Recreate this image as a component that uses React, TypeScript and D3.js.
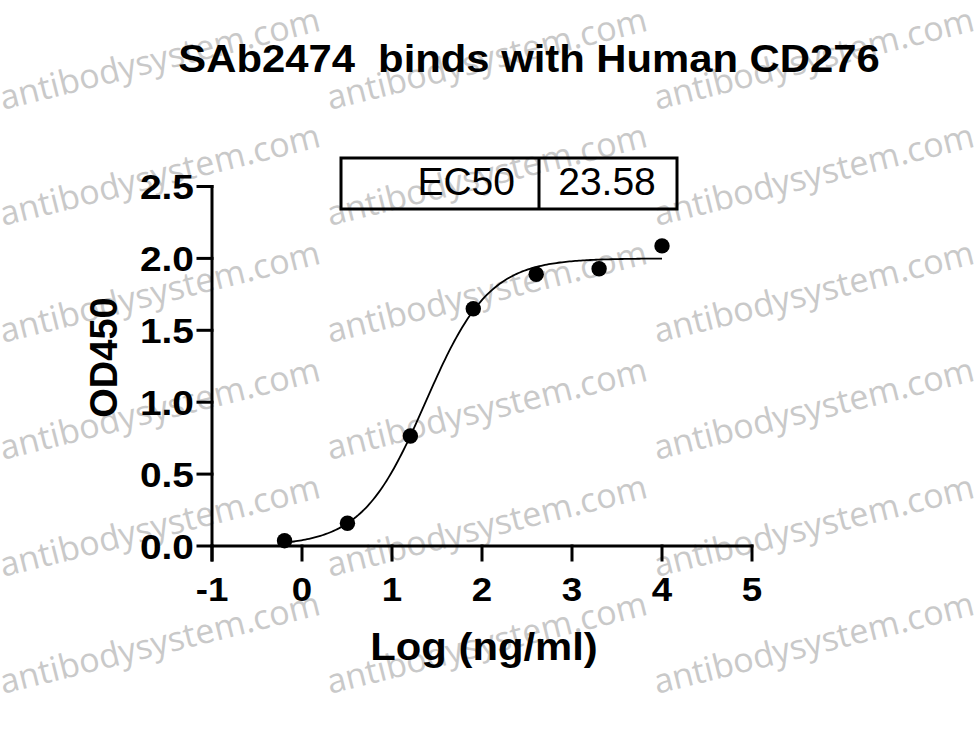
import React from "react";
import * as d3 from "d3";

// ---- data ----
const logConc = [-0.194, 0.505, 1.204, 1.903, 2.602, 3.301, 4.0];
const od450 = [0.037, 0.158, 0.765, 1.65, 1.89, 1.928, 2.087];
const xTicks = [-1, 0, 1, 2, 3, 4, 5];
const yTicks = [0, 0.5, 1.0, 1.5, 2.0, 2.5];
// four-parameter logistic fit shown in the chart
const fitBottom = 0.0;
const fitTop = 2.0;
const fitEC50 = 23.58;
const fitHill = 1.23;
const fitRange = [-0.194, 4.0];
const titleText = "SAb2474  binds with Human CD276";
const xTitle = "Log (ng/ml)";
const yTitle = "OD450";
const ec50Label = "EC50";
const ec50Value = "23.58";
const watermark = "antibodysystem.com";
const wmCols = [3, 330, 657];
const wmRows = [110, 226, 343, 460, 577, 694];

const W = 979;
const H = 729;
const FONT = "'Liberation Sans', Arial, Helvetica, sans-serif";

const x = d3.scaleLinear().domain([-1, 5]).range([212, 752]);
const y = d3.scaleLinear().domain([0, 2.5]).range([546, 186.5]);

function fit(lx: number) {
  const logEC = Math.log10(fitEC50);
  return fitBottom + (fitTop - fitBottom) / (1 + Math.pow(10, (logEC - lx) * fitHill));
}

const SX = 1.08;

export default function App() {
  const curvePts: [number, number][] = d3
    .range(0, 201)
    .map((i) => {
      const lx = fitRange[0] + ((fitRange[1] - fitRange[0]) * i) / 200;
      return [lx, fit(lx)];
    });
  const line = d3
    .line<[number, number]>()
    .x((d) => x(d[0]))
    .y((d) => y(d[1]))
    .curve(d3.curveLinear);

  const x0 = x(-1);
  const y0 = y(0);

  return (
    <svg
      width={W}
      height={H}
      viewBox={`0 0 ${W} ${H}`}
      style={{ position: "absolute", left: 0, top: 0, background: "#fff" }}
    >
      <rect x={0} y={0} width={W} height={H} fill="#fff" />
      {/* watermarks */}
      <g fill="#c9c9c9" fontFamily="'Open Sans', 'DejaVu Sans', sans-serif" fontSize={34}>
        {wmRows.map((ry) =>
          wmCols.map((cx) => (
            <text key={`${cx}-${ry}`} transform={`translate(${cx},${ry}) rotate(-14)`}>
              {watermark}
            </text>
          ))
        )}
      </g>

      {/* title */}
      <text
        transform={`translate(529,72) scale(1.1,1)`}
        textAnchor="middle"
        fontFamily={FONT}
        fontWeight="bold"
        fontSize={38}
        style={{ whiteSpace: "pre" }}
        fill="#000"
      >
        {titleText}
      </text>

      {/* EC50 box */}
      <g stroke="#000" strokeWidth={3} fill="none">
        <rect x={341} y={158} width={336} height={51} />
        <line x1={539} y1={158} x2={539} y2={209} />
      </g>
      <text x={515} y={195} textAnchor="end" fontFamily={FONT} fontSize={39} fill="#000">
        {ec50Label}
      </text>
      <text x={607} y={195} textAnchor="middle" fontFamily={FONT} fontSize={39} fill="#000">
        {ec50Value}
      </text>

      {/* axes */}
      <g stroke="#000" strokeWidth={3} fill="none" strokeLinecap="square">
        <line x1={x0} y1={y(2.5)} x2={x0} y2={y0 + 14} />
        <line x1={x0} y1={y0} x2={x(5)} y2={y0} />
        {xTicks.map((t) => (
          <line key={`xt${t}`} x1={x(t)} y1={y0} x2={x(t)} y2={y0 + 14} />
        ))}
        {yTicks.map((t) => (
          <line key={`yt${t}`} x1={x0 - 14} y1={y(t)} x2={x0} y2={y(t)} />
        ))}
      </g>
      {xTicks.map((t) => (
        <text
          key={`xl${t}`}
          transform={`translate(${x(t)},601) scale(${SX},1)`}
          textAnchor="middle"
          fontFamily={FONT}
          fontWeight="bold"
          fontSize={34}
          fill="#000"
        >
          {String(t)}
        </text>
      ))}
      {yTicks.map((t) => (
        <text
          key={`yl${t}`}
          transform={`translate(194,${y(t) + 12.5}) scale(${SX},1)`}
          textAnchor="end"
          fontFamily={FONT}
          fontWeight="bold"
          fontSize={36}
          fill="#000"
        >
          {t.toFixed(1)}
        </text>
      ))}

      {/* axis titles */}
      <text
        transform={`translate(484,659.5) scale(1.1,1)`}
        textAnchor="middle"
        fontFamily={FONT}
        fontWeight="bold"
        fontSize={38}
        fill="#000"
      >
        {xTitle}
      </text>
      <text
        transform={`translate(117,357.5) rotate(-90)`}
        textAnchor="middle"
        fontFamily={FONT}
        fontWeight="bold"
        fontSize={38}
        fill="#000"
      >
        {yTitle}
      </text>

      {/* fit curve */}
      <path d={line(curvePts) || ""} fill="none" stroke="#000" strokeWidth={1.8} />

      {/* data points */}
      {logConc.map((lx, i) => (
        <circle key={`p${i}`} cx={x(lx)} cy={y(od450[i])} r={7.7} fill="#000" />
      ))}
    </svg>
  );
}
